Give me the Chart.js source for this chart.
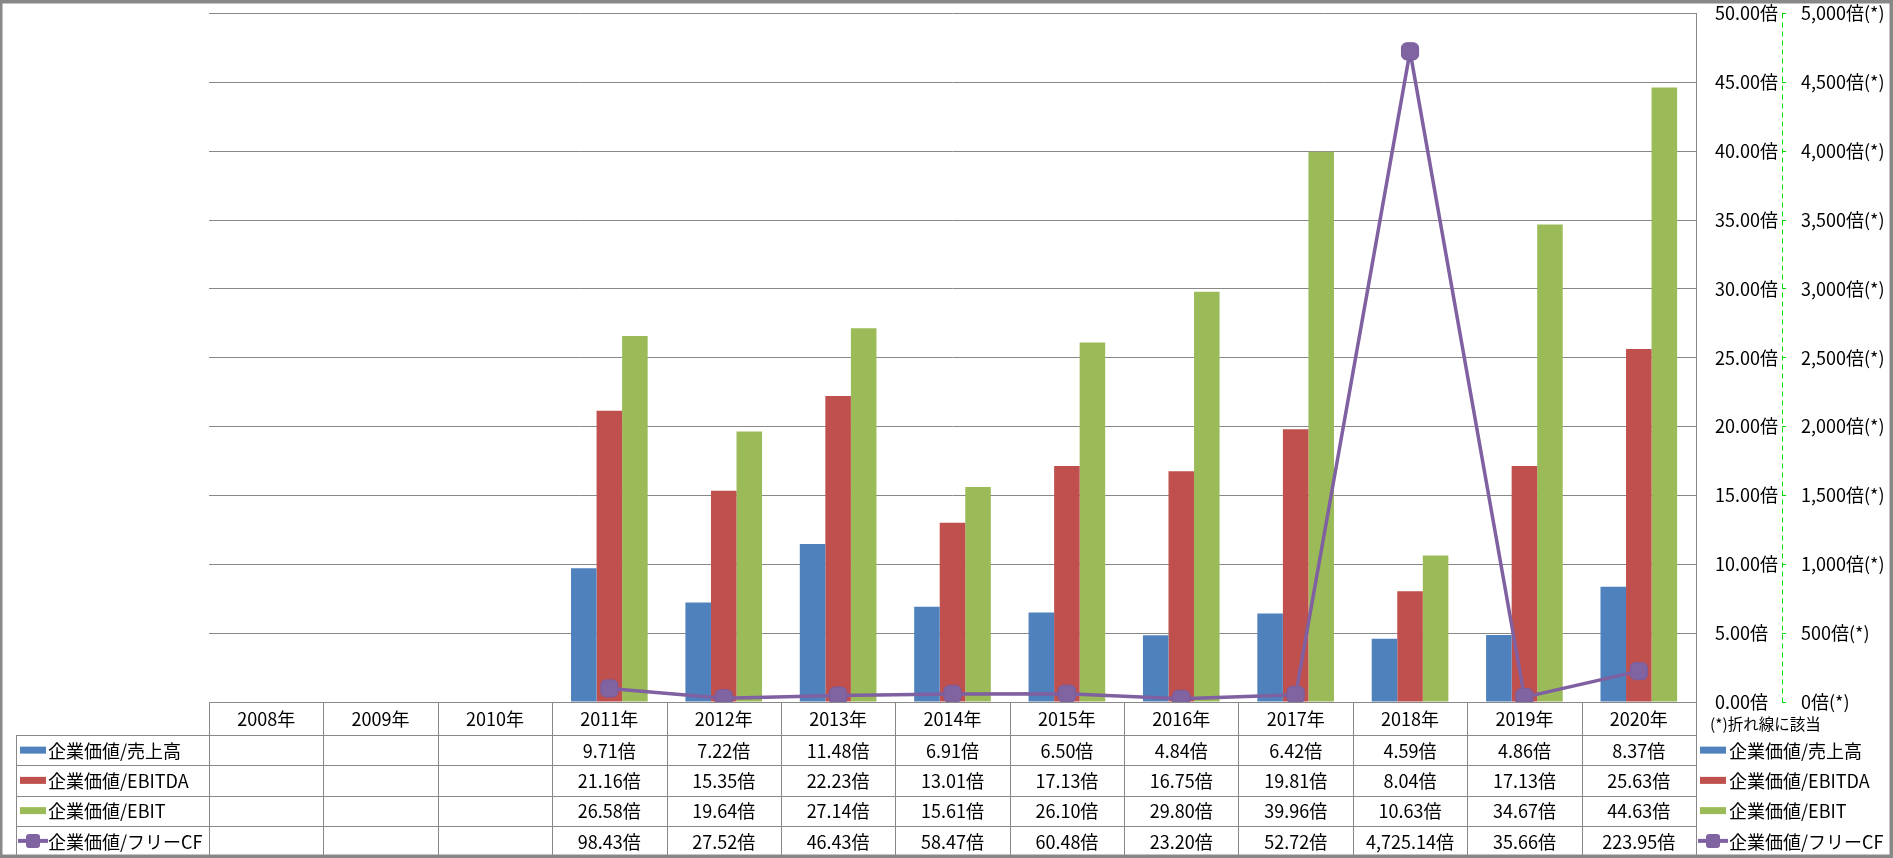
<!DOCTYPE html>
<html>
<head>
<meta charset="utf-8">
<script src="https://cdn.jsdelivr.net/npm/chart.js@4/dist/chart.umd.min.js"></script>
<style>
  body { margin: 0; background: #fff; }
  canvas { display: block; }
</style>
</head>
<body>
<canvas id="multiples" width="1893" height="858"></canvas>
<script>
'use strict'

// data
let years = ['2008年', '2009年', '2010年', '2011年', '2012年', '2013年', '2014年', '2015年', '2016年', '2017年', '2018年', '2019年', '2020年']
let evSales = [null, null, null, 9.71, 7.22, 11.48, 6.91, 6.50, 4.84, 6.42, 4.59, 4.86, 8.37]
let evEbitda = [null, null, null, 21.16, 15.35, 22.23, 13.01, 17.13, 16.75, 19.81, 8.04, 17.13, 25.63]
let evEbit = [null, null, null, 26.58, 19.64, 27.14, 15.61, 26.10, 29.80, 39.96, 10.63, 34.67, 44.63]
let evFcf = [null, null, null, 98.43, 27.52, 46.43, 58.47, 60.48, 23.20, 52.72, 4725.14, 35.66, 223.95]

let seriesNames = ['企業価値/売上高', '企業価値/EBITDA', '企業価値/EBIT', '企業価値/フリーCF']
let seriesColors = ['#4F81BD', '#C0504D', '#9BBB59', '#8064A2']

const FONT = "'Noto Sans CJK JP', 'Noto Sans', sans-serif"
const GRID = '#888888'
const AXIS2 = '#00DD00'

function fmt(v) {
    if (v == null) return ''
    return v.toLocaleString('en-US', {minimumFractionDigits: 2, maximumFractionDigits: 2}) + '倍'
}

function drawKey(ctx, i, x, cy) {
    ctx.fillStyle = seriesColors[i]
    if (i < 3) {
        ctx.fillRect(x, cy - 3.5, 26, 7)
    } else {
        ctx.strokeStyle = '#7F60A0'
        ctx.lineWidth = 4
        ctx.beginPath()
        ctx.moveTo(x - 2, cy)
        ctx.lineTo(x + 28, cy)
        ctx.stroke()
        ctx.beginPath()
        ctx.roundRect(x + 6, cy - 7, 14, 14, 3)
        ctx.fill()
    }
}

// table + legends + dashed secondary axis line + outer frame
const tablePlugin = {
    id: 'dataTable',
    afterDraw(chart) {
        const ctx = chart.ctx
        const area = chart.chartArea
        const xs = chart.scales.x
        const y1 = chart.scales.y1
        const colW = (area.right - area.left) / years.length
        const top = area.bottom
        const rowTops = [top, 735, 765.25, 795.5, 825.75, 856]
        const keyLeft = 16
        const rows = [evSales, evEbitda, evEbit, evFcf]

        ctx.save()

        // secondary axis line (dashed)
        ctx.strokeStyle = AXIS2
        ctx.lineWidth = 1
        ctx.setLineDash([5, 4])
        ctx.beginPath()
        ctx.moveTo(Math.round(y1.left) + 0.5, area.top)
        ctx.lineTo(Math.round(y1.left) + 0.5, area.bottom)
        ctx.stroke()
        ctx.setLineDash([])

        ctx.strokeStyle = GRID

        // horizontal lines
        ctx.beginPath()
        ctx.moveTo(area.left, rowTops[0] + 0.5)
        ctx.lineTo(area.right, rowTops[0] + 0.5)
        for (let r = 1; r < rowTops.length; r++) {
            ctx.moveTo(keyLeft, Math.round(rowTops[r]) + 0.5)
            ctx.lineTo(area.right, Math.round(rowTops[r]) + 0.5)
        }
        // vertical lines
        ctx.moveTo(keyLeft + 0.5, rowTops[1])
        ctx.lineTo(keyLeft + 0.5, rowTops[5])
        for (let c = 0; c <= years.length; c++) {
            let x = Math.round(area.left + c * colW) + 0.5
            ctx.moveTo(x, rowTops[0])
            ctx.lineTo(x, rowTops[5])
        }
        ctx.stroke()

        // texts
        ctx.fillStyle = '#000'
        ctx.font = '18px ' + FONT
        ctx.textAlign = 'center'
        ctx.textBaseline = 'middle'
        years.forEach((y, c) => {
            let cx = xs.getPixelForValue(c)
            ctx.fillText(y, cx, (rowTops[0] + rowTops[1]) / 2 + 1)
            rows.forEach((vals, r) => {
                ctx.fillText(fmt(vals[c]), cx, (rowTops[r + 1] + rowTops[r + 2]) / 2 + 1)
            })
        })

        // keys on the left (inside table) and on the right
        ctx.font = '18px ' + FONT
        ctx.textAlign = 'left'
        seriesNames.forEach((name, i) => {
            let cy = (rowTops[i + 1] + rowTops[i + 2]) / 2
            drawKey(ctx, i, 20, cy)
            ctx.fillStyle = '#000'
            ctx.fillText(name, 48, cy + 1)
            drawKey(ctx, i, 1700, cy)
            ctx.fillStyle = '#000'
            ctx.fillText(name, 1729, cy + 1)
        })

        ctx.font = '15.5px ' + FONT
        ctx.fillText('(*)折れ線に該当', 1710, 724)

        // outer frame
        ctx.strokeStyle = GRID
        ctx.strokeRect(0.5, 1.5, 1891, 855)
        ctx.restore()
    }
}

let ctx = document.getElementById('multiples').getContext('2d')

let multiplesChart = new Chart(ctx, {
    type: 'bar',
    data: {
        labels: years,
        datasets: [
            {
                type: 'line',
                label: seriesNames[3],
                data: evFcf,
                yAxisID: 'y1',
                borderColor: '#7F60A0',
                borderWidth: 3.5,
                backgroundColor: seriesColors[3],
                pointStyle: 'rectRounded',
                pointRadius: 10,
                pointBorderColor: '#7A5C9C',
                pointBorderWidth: 1,
                tension: 0,
                order: 0
            },
            {label: seriesNames[0], data: evSales, backgroundColor: seriesColors[0], yAxisID: 'y', order: 1},
            {label: seriesNames[1], data: evEbitda, backgroundColor: seriesColors[1], yAxisID: 'y', order: 1},
            {label: seriesNames[2], data: evEbit, backgroundColor: seriesColors[2], yAxisID: 'y', order: 1}
        ]
    },
    options: {
        responsive: false,
        animation: false,
        devicePixelRatio: 1,
        categoryPercentage: 0.67,
        barPercentage: 1,
        layout: {padding: {left: 209, right: 2, top: 13.5, bottom: 156}},
        plugins: {legend: {display: false}, tooltip: {enabled: false}},
        scales: {
            x: {display: false, offset: true},
            y: {
                position: 'right',
                weight: 0,
                min: 0,
                max: 50,
                afterFit: s => { s.width = 86; s.paddingTop = 0; s.paddingBottom = 0 },
                ticks: {
                    stepSize: 5,
                    padding: 19,
                    crossAlign: 'near',
                    color: '#000',
                    font: {family: FONT, size: 18},
                    callback: v => v.toFixed(2) + '倍'
                },
                grid: {color: GRID, drawTicks: false},
                border: {display: true, color: GRID}
            },
            y1: {
                position: 'right',
                weight: 1,
                min: 0,
                max: 5000,
                afterFit: s => { s.width = 109; s.paddingTop = 0; s.paddingBottom = 0 },
                ticks: {
                    stepSize: 500,
                    padding: 15,
                    crossAlign: 'near',
                    color: '#000',
                    font: {family: FONT, size: 18},
                    callback: v => v.toLocaleString('en-US') + '倍(*)'
                },
                grid: {drawOnChartArea: false, drawTicks: true, tickLength: 4, color: AXIS2},
                border: {display: false}
            }
        }
    },
    plugins: [tablePlugin]
})
</script>
</body>
</html>
